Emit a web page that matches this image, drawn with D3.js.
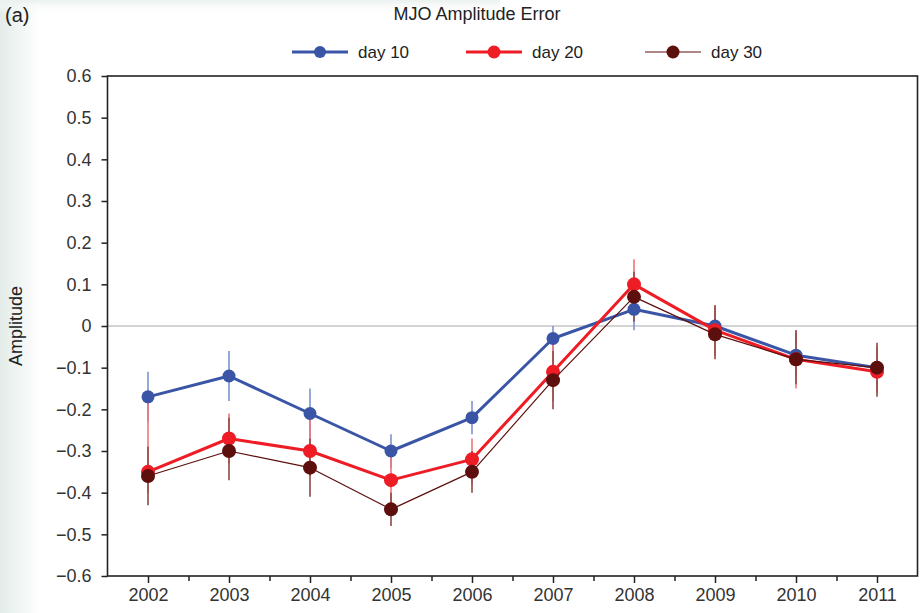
<!DOCTYPE html>
<html><head><meta charset="utf-8">
<script src="https://cdn.jsdelivr.net/npm/d3@7"></script>
<style>body{margin:0;background:#fff}svg{display:block;font-family:"Liberation Sans",Arial,sans-serif}</style>
</head><body>
<svg id="c" width="920" height="613"></svg>
<script>
const years = [2002,2003,2004,2005,2006,2007,2008,2009,2010,2011];
const yTicks = [0.6,0.5,0.4,0.3,0.2,0.1,0,-0.1,-0.2,-0.3,-0.4,-0.5,-0.6];
const day10 = [-0.17,-0.12,-0.21,-0.30,-0.22,-0.03,0.04,0.00,-0.07,-0.10];
const day10Lo = [-0.23,-0.18,-0.27,-0.34,-0.26,-0.06,-0.01,-0.04,-0.12,-0.14];
const day10Hi = [-0.11,-0.06,-0.15,-0.26,-0.18,0.00,0.09,0.04,-0.02,-0.06];
const day20 = [-0.35,-0.27,-0.30,-0.37,-0.32,-0.11,0.10,-0.01,-0.08,-0.11];
const day20Lo = [-0.40,-0.33,-0.36,-0.44,-0.38,-0.18,0.03,-0.07,-0.15,-0.16];
const day20Hi = [-0.17,-0.21,-0.22,-0.30,-0.27,-0.04,0.16,0.05,-0.01,-0.05];
const day30 = [-0.36,-0.30,-0.34,-0.44,-0.35,-0.13,0.07,-0.02,-0.08,-0.10];
const day30Lo = [-0.43,-0.37,-0.41,-0.48,-0.40,-0.20,0.01,-0.08,-0.14,-0.17];
const day30Hi = [-0.29,-0.22,-0.27,-0.40,-0.30,-0.06,0.13,0.05,-0.01,-0.04];
const seriesNames = ["day 10","day 20","day 30"];

const series = [
  {name:seriesNames[0], v:day10, lo:day10Lo, hi:day10Hi, color:"#3a55a6", err:"#7b93cf", lw:3, r:6.5},
  {name:seriesNames[1], v:day20, lo:day20Lo, hi:day20Hi, color:"#ee1c25", err:"#f27479", lw:3, r:7},
  {name:seriesNames[2], v:day30, lo:day30Lo, hi:day30Hi, color:"#5c0f0c", err:"#8c4a45", lw:1.2, r:7}
];

const svg = d3.select("#c");
const L=107.5, R=917.5, T=76, B=576;
const x = d3.scaleLinear().domain([2001.5,2011.5]).range([L,R]);
const y = d3.scaleLinear().domain([-0.6,0.6]).range([B,T]);

// faint background tint at left/top edge
const defs = svg.append("defs");
const g1 = defs.append("linearGradient").attr("id","lg").attr("x1",0).attr("x2",1);
g1.append("stop").attr("offset",0).attr("stop-color","#e3ece8");
g1.append("stop").attr("offset",1).attr("stop-color","#ffffff");
svg.append("rect").attr("x",0).attr("y",0).attr("width",40).attr("height",613).attr("fill","url(#lg)");
const g2 = defs.append("linearGradient").attr("id","lg2").attr("x1",0).attr("x2",0).attr("y1",0).attr("y2",1);
g2.append("stop").attr("offset",0).attr("stop-color","#eaf1ee");
g2.append("stop").attr("offset",1).attr("stop-color","#ffffff").attr("stop-opacity",0);
svg.append("rect").attr("x",0).attr("y",0).attr("width",500).attr("height",14).attr("fill","url(#lg2)");

// zero line
svg.append("line").attr("x1",L).attr("x2",R).attr("y1",y(0)).attr("y2",y(0))
  .attr("stroke","#d4d4d4").attr("stroke-width",2);

// axes
const FONT = "Liberation Sans, Arial, sans-serif";
const yAxis = d3.axisLeft(y).tickValues(yTicks).tickSize(6).tickPadding(10)
  .tickFormat(d => d===0 ? "0" : d3.format(".1f")(d).replace("-","\u2212"));
const ga = svg.append("g").attr("transform",`translate(${L},0)`).call(yAxis);
ga.select(".domain").remove();
ga.selectAll("line").attr("stroke","#222").attr("stroke-width",1.5);
ga.selectAll("text").attr("font-size",18).attr("fill","#333").attr("font-family",FONT);

const minor = years.map(d=>d+0.5).slice(0,-1);
const xAxis = d3.axisBottom(x).tickValues(years).tickSize(7).tickPadding(5).tickFormat(d3.format("d"));
const gx = svg.append("g").attr("transform",`translate(0,${B})`).call(xAxis);
gx.select(".domain").remove();
gx.selectAll("line").attr("stroke","#222").attr("stroke-width",1.5);
gx.selectAll("text").attr("font-size",18).attr("fill","#333").attr("font-family",FONT);
const gm = svg.append("g").attr("transform",`translate(0,${B})`)
  .call(d3.axisBottom(x).tickValues(minor).tickSize(5).tickFormat(""));
gm.select(".domain").remove();
gm.selectAll("line").attr("stroke","#222").attr("stroke-width",1.5);

// frame
svg.append("rect").attr("x",L).attr("y",T).attr("width",R-L).attr("height",B-T)
  .attr("fill","none").attr("stroke","#222").attr("stroke-width",1.6);

// series
const line = d3.line().x((d,i)=>x(years[i])).y(d=>y(d));
series.forEach(s=>{
  const g = svg.append("g");
  g.selectAll("line.err").data(years).join("line")
    .attr("x1",d=>x(d)).attr("x2",d=>x(d))
    .attr("y1",(d,i)=>y(s.lo[i])).attr("y2",(d,i)=>y(s.hi[i]))
    .attr("stroke",s.err).attr("stroke-width",1.6);
});
series.forEach(s=>{
  const g = svg.append("g");
  g.append("path").datum(s.v).attr("d",line).attr("fill","none")
    .attr("stroke",s.color).attr("stroke-width",s.lw).attr("stroke-linejoin","round");
  g.selectAll("circle").data(s.v).join("circle")
    .attr("cx",(d,i)=>x(years[i])).attr("cy",d=>y(d)).attr("r",s.r).attr("fill",s.color);
});

// title
svg.append("text").attr("x",477).attr("y",20).attr("text-anchor","middle")
  .attr("font-size",18).attr("fill","#222").text("MJO Amplitude Error");
svg.append("text").attr("x",5).attr("y",22).attr("font-size",20).attr("fill","#222").text("(a)");
svg.append("text").attr("transform",`translate(22,${y(0)}) rotate(-90)`).attr("text-anchor","middle")
  .attr("font-size",18).attr("fill","#222").text("Amplitude");

// legend
const legX = [292,466,645];
series.forEach((s,i)=>{
  const lg = svg.append("g").attr("transform",`translate(${legX[i]},52)`);
  lg.append("line").attr("x1",0).attr("x2",56).attr("y1",0).attr("y2",0)
    .attr("stroke",s.color).attr("stroke-width",s.lw);
  lg.append("circle").attr("cx",28).attr("cy",0).attr("r",s.r-0.5).attr("fill",s.color);
  lg.append("text").attr("x",66).attr("y",6).attr("font-size",17).attr("fill","#222").text(s.name);
});
</script>
</body></html>
